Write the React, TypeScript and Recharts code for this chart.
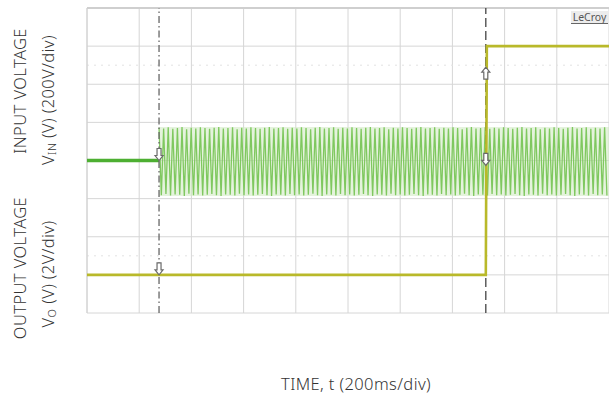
import React from 'react';
import {
  ComposedChart,
  Line,
  Area,
  XAxis,
  YAxis,
  CartesianGrid,
  ReferenceLine,
  ReferenceDot,
} from 'recharts';

// Axes in oscilloscope divisions
const X_TICKS = [0, 1, 2, 3, 4, 5, 6, 7, 8, 9, 10];
const Y_TICKS = [0, 1, 2, 3, 4, 5, 6, 7, 8];
const GUIDE_LEVELS = [6.5, 1.5];

// Input voltage before the AC is applied (divisions)
const INPUT_IDLE = [
  { t: 0, v: 4.0 },
  { t: 1.38, v: 4.0 },
];

// Output voltage trace (divisions)
const OUTPUT = [
  { t: 0, v: 1.0 },
  { t: 7.64, v: 1.0 },
  { t: 7.66, v: 7.0 },
  { t: 10, v: 7.0 },
];

// AC input samples: alternate crest / trough values
const AC_START = 1.38;
const AC_END = 10;
const AC_STEP = 0.044;
const AC_PEAKS = [
  4.86, 4.84, 4.87, 4.83, 4.85, 4.88, 4.82, 4.86, 4.84, 4.87,
  4.85, 4.83, 4.86, 4.88, 4.84, 4.85, 4.87, 4.82, 4.86, 4.84,
  4.87, 4.85, 4.83, 4.86, 4.88, 4.84, 4.85, 4.87, 4.83, 4.86,
  4.84, 4.87, 4.85, 4.82, 4.86, 4.88, 4.84, 4.85, 4.87, 4.83,
  4.86, 4.84, 4.87, 4.85, 4.83, 4.86, 4.88, 4.84, 4.85, 4.87,
  4.82, 4.86, 4.84, 4.87, 4.85, 4.83, 4.86, 4.88, 4.84, 4.85,
  4.87, 4.83, 4.86, 4.84, 4.87, 4.85, 4.82, 4.86, 4.88, 4.84,
  4.85, 4.87, 4.83, 4.86, 4.84, 4.87, 4.85, 4.83, 4.86, 4.88,
  4.84, 4.85, 4.87, 4.82, 4.86, 4.84, 4.87, 4.85, 4.83, 4.86,
  4.88, 4.84, 4.85, 4.87, 4.83, 4.86, 4.84, 4.87,
];
const AC_TROUGHS = [
  3.09, 3.12, 3.08, 3.11, 3.10, 3.07, 3.13, 3.09, 3.11, 3.08,
  3.10, 3.12, 3.09, 3.07, 3.11, 3.10, 3.08, 3.13, 3.09, 3.11,
  3.08, 3.10, 3.12, 3.09, 3.07, 3.11, 3.10, 3.08, 3.12, 3.09,
  3.11, 3.08, 3.10, 3.13, 3.09, 3.07, 3.11, 3.10, 3.08, 3.12,
  3.09, 3.11, 3.08, 3.10, 3.12, 3.09, 3.07, 3.11, 3.10, 3.08,
  3.13, 3.09, 3.11, 3.08, 3.10, 3.12, 3.09, 3.07, 3.11, 3.10,
  3.08, 3.12, 3.09, 3.11, 3.08, 3.10, 3.13, 3.09, 3.07, 3.11,
  3.10, 3.08, 3.12, 3.09, 3.11, 3.08, 3.10, 3.12, 3.09, 3.07,
  3.11, 3.10, 3.08, 3.13, 3.09, 3.11, 3.08, 3.10, 3.12, 3.09,
  3.07, 3.11, 3.10, 3.08, 3.12, 3.09, 3.11, 3.08,
];

// Cursors and trigger markers (divisions)
const CURSORS = [
  { t: 1.38, dash: '7 3 1.5 3', color: '#666666' },
  { t: 7.64, dash: '9 4', color: '#444444' },
];
const MARKERS = [
  { t: 1.38, v: 4.0, dir: 'down' },
  { t: 1.38, v: 1.0, dir: 'down' },
  { t: 7.64, v: 6.45, dir: 'up' },
  { t: 7.64, v: 3.87, dir: 'down' },
];

const acData: { t: number; v: number }[] = [];
AC_PEAKS.forEach((p, i) => {
  acData.push({ t: AC_START + AC_STEP * (2 * i), v: p });
  acData.push({ t: AC_START + AC_STEP * (2 * i + 1), v: AC_TROUGHS[i] });
});
const envLow = Math.min(...AC_TROUGHS);
const envHigh = Math.max(...AC_PEAKS);
const acBand = [
  { t: AC_START, r: [envLow, envHigh] },
  { t: AC_END, r: [envLow, envHigh] },
];

const Arrow = (props: any) => {
  const { cx, cy, dir } = props;
  if (cx == null || cy == null) return null;
  const s = dir === 'up' ? 1 : -1;
  const pts = [
    [cx, cy],
    [cx - 4, cy + s * 5],
    [cx - 2, cy + s * 5],
    [cx - 2, cy + s * 12],
    [cx + 2, cy + s * 12],
    [cx + 2, cy + s * 5],
    [cx + 4, cy + s * 5],
  ]
    .map((p) => p.join(','))
    .join(' ');
  return <polygon points={pts} fill="#ffffff" stroke="#6a6a6a" strokeWidth={1.2} />;
};

const FONT = '"Noto Sans", sans-serif';
const TEXT = '#333333';
const FS = 16.5;
const LS = 0.4;

export default function App() {
  return (
    <div style={{ position: 'absolute', left: 0, top: 0, width: 609, height: 398, background: '#fff' }}>
      <ComposedChart width={609} height={398} margin={{ top: 8, right: 0, bottom: 85, left: 87 }}>
        <XAxis type="number" dataKey="t" domain={[0, 10]} ticks={X_TICKS} hide allowDataOverflow />
        <YAxis type="number" domain={[0, 8]} ticks={Y_TICKS} hide allowDataOverflow />
        <CartesianGrid stroke="#d6d6d6" strokeWidth={1} />
        {GUIDE_LEVELS.map((g) => (
          <ReferenceLine key={g} y={g} stroke="#e2e2e2" strokeDasharray="2 5" />
        ))}
        <ReferenceLine y={8} stroke="#cfcfcf" strokeWidth={2} />
        <ReferenceLine x={0} stroke="#d0d0d0" strokeWidth={1} />
        <Area
          data={acBand}
          dataKey="r"
          type="linear"
          stroke="none"
          fill="#cfeac1"
          fillOpacity={0.55}
          isAnimationActive={false}
        />
        <Line
          data={acData}
          dataKey="v"
          type="linear"
          stroke="#7fc85f"
          strokeWidth={1.3}
          dot={false}
          isAnimationActive={false}
        />
        <Line
          data={INPUT_IDLE}
          dataKey="v"
          type="linear"
          stroke="#4daf32"
          strokeWidth={3.5}
          dot={false}
          isAnimationActive={false}
        />
        {CURSORS.map((c) => (
          <ReferenceLine key={c.t} x={c.t} stroke={c.color} strokeWidth={1.3} strokeDasharray={c.dash} />
        ))}
        <Line
          data={OUTPUT}
          dataKey="v"
          type="linear"
          stroke="#b9b92a"
          strokeWidth={2.6}
          dot={false}
          isAnimationActive={false}
        />
        {MARKERS.map((m, i) => (
          <ReferenceDot
            key={i}
            x={m.t}
            y={m.v}
            r={4}
            shape={(p: any) => <Arrow {...p} dir={m.dir} />}
          />
        ))}
      </ComposedChart>
      <svg
        width={609}
        height={398}
        style={{ position: 'absolute', left: 0, top: 0, pointerEvents: 'none' }}
        fontFamily={FONT}
      >
        <rect x={571} y={11} width={37} height={12} fill="#ececec" />
        <text x={589.5} y={21} textAnchor="middle" fontSize={10.5} fill="#555">LeCroy</text>
        <line x1={571} x2={608} y1={23.5} y2={23.5} stroke="#666" strokeWidth={1} />
        <text
          transform="translate(19,91) rotate(-90)"
          textAnchor="middle"
          dominantBaseline="central"
          fontSize={FS}
          letterSpacing={LS}
          fontWeight={300}
          fill={TEXT}
        >
          INPUT VOLTAGE
        </text>
        <text
          transform="translate(47,100) rotate(-90)"
          textAnchor="middle"
          dominantBaseline="central"
          fontSize={FS}
          letterSpacing={LS}
          fontWeight={300}
          fill={TEXT}
        >
          V<tspan fontSize={11} dy={4}>IN</tspan>
          <tspan dy={-4}> (V) (200V/div)</tspan>
        </text>
        <text
          transform="translate(19,268) rotate(-90)"
          textAnchor="middle"
          dominantBaseline="central"
          fontSize={FS}
          letterSpacing={LS}
          fontWeight={300}
          fill={TEXT}
        >
          OUTPUT VOLTAGE
        </text>
        <text
          transform="translate(47,274) rotate(-90)"
          textAnchor="middle"
          dominantBaseline="central"
          fontSize={FS}
          letterSpacing={LS}
          fontWeight={300}
          fill={TEXT}
        >
          V<tspan fontSize={11} dy={4}>O</tspan>
          <tspan dy={-4}> (V) (2V/div)</tspan>
        </text>
        <text
          x={356}
          y={383}
          textAnchor="middle"
          dominantBaseline="central"
          fontSize={FS}
          letterSpacing={LS}
          fontWeight={300}
          fill={TEXT}
        >
          TIME, t (200ms/div)
        </text>
      </svg>
    </div>
  );
}
